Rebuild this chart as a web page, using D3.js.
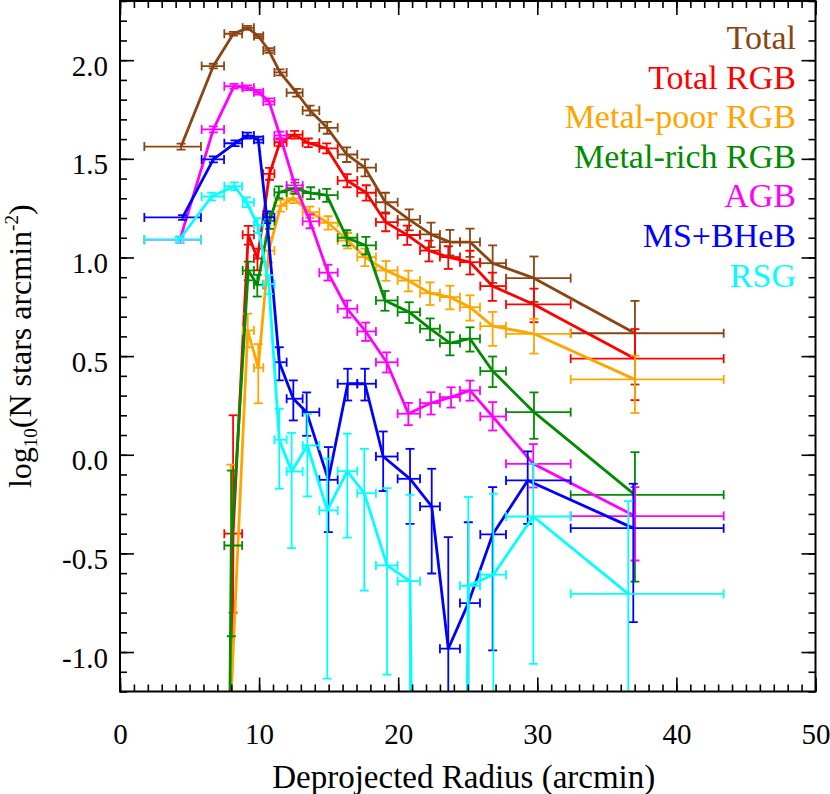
<!DOCTYPE html>
<html>
<head>
<meta charset="utf-8">
<script src="https://cdn.jsdelivr.net/npm/d3@7"></script>
<style>
  html, body { margin: 0; padding: 0; background: #fff; }
  svg { display: block; }
  svg text { font-family: "Liberation Serif", "Times New Roman", "DejaVu Serif", serif; fill: #000; }
</style>
</head>
<body>
<svg id="chart" width="830" height="794"></svg>
<script>
'use strict';

const serif = '"Liberation Serif", "Times New Roman", "DejaVu Serif", serif';

// Radial bins (arcmin); the x error bars span each bin
const binLo = [1.75, 5.87, 7.5, 8.82, 9.63, 10.3, 11.1, 11.98, 13.13, 14.33, 15.65, 17.06, 18.4, 19.96, 21.57, 23.0, 24.44, 25.9, 27.75, 32.4];
const binHi = [5.82, 7.48, 8.78, 9.63, 10.3, 11.1, 11.98, 13.13, 14.33, 15.65, 17.06, 18.4, 19.96, 21.57, 23.0, 24.44, 25.88, 27.75, 32.4, 43.4];

// log10 densities per bin; -10 marks empty bins (far below the axis)
const totalX  = [4.39, 6.71, 8.15, 9.18, 9.94, 10.71, 11.50, 12.70, 13.66, 14.90, 16.30, 17.61, 19.08, 20.79, 22.36, 23.72, 25.16, 26.79, 29.76, 37.02];
const totalY  = [1.562, 1.970, 2.134, 2.164, 2.122, 2.049, 1.938, 1.835, 1.745, 1.657, 1.522, 1.455, 1.280, 1.192, 1.117, 1.078, 1.078, 0.971, 0.895, 0.616];
const totalUp = [0.015, 0.012, 0.01, 0.01, 0.01, 0.012, 0.015, 0.02, 0.025, 0.03, 0.036, 0.042, 0.048, 0.052, 0.06, 0.062, 0.068, 0.09, 0.11, 0.164];
const totalDn = [0.015, 0.012, 0.01, 0.01, 0.01, 0.012, 0.015, 0.02, 0.025, 0.03, 0.038, 0.044, 0.052, 0.055, 0.065, 0.068, 0.075, 0.1, 0.12, 0.26];

const rgbX  = [null, 6.8, 8.13, 9.22, 9.88, 10.75, 11.5, 12.55, 13.54, 14.86, 16.33, 17.7, 19.1, 20.65, 22.21, 23.6, 25.16, 26.77, 29.76, 37.02];
const rgbY  = [null, -10, -0.40, 1.115, 0.995, 1.424, 1.584, 1.622, 1.581, 1.553, 1.39, 1.328, 1.179, 1.114, 1.035, 1.002, 0.976, 0.855, 0.762, 0.487];
const rgbUp = [null, 0, 0.60, 0.045, 0.05, 0.03, 0.02, 0.02, 0.022, 0.025, 0.032, 0.038, 0.043, 0.047, 0.05, 0.055, 0.058, 0.068, 0.08, 0.15];
const rgbDn = [null, 0, 0.40, 0.05, 0.06, 0.03, 0.02, 0.02, 0.022, 0.025, 0.034, 0.04, 0.046, 0.05, 0.055, 0.06, 0.062, 0.075, 0.09, 0.21];

const poorX  = [null, 6.8, 7.97, 9.18, 9.94, 10.7, 11.55, 12.46, 13.64, 14.96, 16.37, 17.61, 19.12, 20.73, 22.29, 23.72, 25.16, 26.79, 29.76, 37.02];
const poorY  = [null, -10, -1.25, 0.63, 0.441, 1.035, 1.262, 1.300, 1.23, 1.176, 1.086, 1.002, 0.934, 0.883, 0.819, 0.799, 0.748, 0.652, 0.613, 0.382];
const poorUp = [null, 0, 1.2, 0.085, 0.12, 0.065, 0.03, 0.025, 0.028, 0.033, 0.038, 0.043, 0.048, 0.05, 0.055, 0.058, 0.06, 0.072, 0.076, 0.12];
const poorDn = [null, 0, 9, 0.085, 0.18, 0.06, 0.03, 0.025, 0.03, 0.035, 0.04, 0.046, 0.052, 0.055, 0.06, 0.062, 0.068, 0.1, 0.1, 0.17];

const richX  = [null, 6.8, 8.0, 9.22, 9.87, 10.75, 11.42, 12.58, 13.71, 14.86, 16.3, 17.68, 19.05, 20.79, 22.29, 23.72, 25.16, 26.79, 29.76, 37.02];
const richY  = [null, -10, -0.46, 0.934, 0.862, 1.185, 1.33, 1.351, 1.326, 1.316, 1.10, 1.061, 0.782, 0.723, 0.639, 0.566, 0.588, 0.424, 0.216, -0.203];
const richUp = [null, 0, 0.38, 0.045, 0.05, 0.04, 0.03, 0.028, 0.03, 0.032, 0.038, 0.043, 0.048, 0.05, 0.052, 0.055, 0.058, 0.074, 0.10, 0.216];
const richDn = [null, 0, 0.46, 0.05, 0.06, 0.04, 0.03, 0.028, 0.03, 0.034, 0.04, 0.046, 0.052, 0.055, 0.058, 0.062, 0.065, 0.081, 0.135, 0.44];

const agbX  = [4.31, 6.71, 8.2, 9.18, 9.94, 10.71, 11.5, 12.58, 13.66, 14.95, 16.33, 17.66, 19.17, 20.73, 22.36, 23.8, 25.16, 26.79, 29.71, 37.02];
const agbY  = [1.09, 1.649, 1.868, 1.86, 1.838, 1.791, 1.618, 1.365, 1.183, 0.923, 0.74, 0.625, 0.469, 0.208, 0.262, 0.292, 0.326, 0.194, -0.046, -0.311];
const agbUp = [0.015, 0.015, 0.012, 0.012, 0.012, 0.015, 0.02, 0.03, 0.035, 0.04, 0.042, 0.045, 0.05, 0.055, 0.055, 0.05, 0.05, 0.073, 0.10, 0.147];
const agbDn = [0.015, 0.015, 0.012, 0.012, 0.012, 0.015, 0.02, 0.03, 0.035, 0.04, 0.045, 0.048, 0.052, 0.058, 0.058, 0.053, 0.052, 0.071, 0.12, 0.225];

const msX  = [4.5, 6.71, 8.27, 9.18, 9.94, 10.55, 11.45, 12.46, 13.42, 14.98, 16.37, 17.61, 18.92, 20.85, 22.41, 23.6, 25.04, 26.79, 29.31, 36.9];
const msY  = [1.203, 1.497, 1.579, 1.618, 1.597, 1.204, 0.469, 0.284, 0.216, -0.127, 0.36, 0.36, -0.009, -0.122, -0.262, -0.983, -0.752, -0.404, -0.13, -0.372];
const msUp = [0.012, 0.015, 0.015, 0.015, 0.015, 0.03, 0.076, 0.093, 0.1, 0.166, 0.076, 0.076, 0.127, 0.152, 0.191, 0.565, 0.41, 0.24, 0.147, 0.225];
const msDn = [0.012, 0.015, 0.015, 0.015, 0.015, 0.03, 0.092, 0.11, 0.12, 0.265, 0.085, 0.085, 0.175, 0.228, 0.34, 9, 9, 0.588, 0.22, 0.476];

const rsgX  = [4.26, 6.59, 8.22, 9.1, 9.9, 10.7, 11.45, 12.34, 13.47, 14.9, 16.34, 17.56, 19.2, 20.85, 22.3, 23.7, 25.04, 26.84, 29.71, 36.54];
const rsgY  = [1.09, 1.309, 1.361, 1.28, 1.164, 0.865, 0.076, -0.085, 0.047, -0.282, -0.083, -0.195, -0.561, -0.641, -10, -10, -0.664, -0.608, -0.313, -0.705];
const rsgUp = [0.015, 0.02, 0.02, 0.025, 0.035, 0.045, 0.157, 0.196, 0.16, 0.262, 0.19, 0.225, 0.392, 0.438, 0, 0, 0.45, 0.41, 0.267, 0.47];
const rsgDn = [0.015, 0.02, 0.02, 0.025, 0.04, 0.05, 0.248, 0.388, 0.258, 0.853, 0.337, 0.493, 0.553, 9, 0, 0, 9, 9, 0.747, 9];

const seriesNames  = ['Total', 'Total RGB', 'Metal-poor RGB', 'Metal-rich RGB', 'AGB', 'MS+BHeB', 'RSG'];
const seriesColors = ['#8b4513', '#ff0000', '#ffa500', '#008c00', '#ff00ff', '#0000ff', '#00ffff'];

const xTicks = [0, 10, 20, 30, 40, 50];
const yTicks = [-1.0, -0.5, 0.0, 0.5, 1.0, 1.5, 2.0];

const series = [
    [totalX, totalY, totalUp, totalDn],
    [rgbX, rgbY, rgbUp, rgbDn],
    [poorX, poorY, poorUp, poorDn],
    [richX, richY, richUp, richDn],
    [agbX, agbY, agbUp, agbDn],
    [msX, msY, msUp, msDn],
    [rsgX, rsgY, rsgUp, rsgDn]
].map(([xs, ys, up, dn], k) => ({
    name: seriesNames[k],
    color: seriesColors[k],
    points: xs.map((x, i) => ({ x, y: ys[i], up: up[i], dn: dn[i], lo: binLo[i], hi: binHi[i] }))
              .filter(p => p.x != null)
}));

// Layout
const plotL = 120, plotR = 815.5, plotT = 1, plotB = 691.5;
const x = d3.scaleLinear().domain([0, 50]).range([plotL, plotR]);
const y = d3.scaleLinear().domain([-1.2, 2.3]).range([plotB, plotT]);

const svg = d3.select('#chart').attr('font-family', serif);

svg.append('defs').append('clipPath').attr('id', 'plotClip')
    .append('rect')
    .attr('x', plotL).attr('y', plotT)
    .attr('width', plotR - plotL).attr('height', plotB - plotT);

const plot = svg.append('g').attr('clip-path', 'url(#plotClip)');
const cap = 4.5;

series.forEach(s => {
    const g = plot.append('g').attr('stroke', s.color).attr('fill', 'none');

    g.append('path')
        .datum(s.points)
        .attr('stroke-width', 2.8)
        .attr('stroke-linejoin', 'round')
        .attr('d', d3.line().x(d => x(d.x)).y(d => y(d.y)));

    const bars = s.points.filter(p => p.y > -5);
    const eb = g.selectAll('g.eb').data(bars).enter().append('g')
        .attr('class', 'eb').attr('stroke-width', 1.8);

    // vertical error
    eb.append('line')
        .attr('x1', d => x(d.x)).attr('x2', d => x(d.x))
        .attr('y1', d => y(d.y - d.dn)).attr('y2', d => y(d.y + d.up));
    eb.append('line')
        .attr('x1', d => x(d.x) - cap).attr('x2', d => x(d.x) + cap)
        .attr('y1', d => y(d.y + d.up)).attr('y2', d => y(d.y + d.up));
    eb.append('line')
        .attr('x1', d => x(d.x) - cap).attr('x2', d => x(d.x) + cap)
        .attr('y1', d => y(d.y - d.dn)).attr('y2', d => y(d.y - d.dn));

    // horizontal (bin) error
    eb.append('line')
        .attr('x1', d => x(d.lo)).attr('x2', d => x(d.hi))
        .attr('y1', d => y(d.y)).attr('y2', d => y(d.y));
    eb.append('line')
        .attr('x1', d => x(d.lo)).attr('x2', d => x(d.lo))
        .attr('y1', d => y(d.y) - cap).attr('y2', d => y(d.y) + cap);
    eb.append('line')
        .attr('x1', d => x(d.hi)).attr('x2', d => x(d.hi))
        .attr('y1', d => y(d.y) - cap).attr('y2', d => y(d.y) + cap);
});

// Axes: ticks point inward, mirrored on top/right
const xMinor = d3.range(0, 51, 1);
const yMinor = d3.range(-12, 24, 1).map(v => v / 10);

function styleAxis(g) {
    g.attr('font-family', serif);
    g.select('.domain').remove();
    g.selectAll('line').attr('stroke', '#000').attr('stroke-width', 1.6);
}

svg.append('g').attr('transform', `translate(0,${plotB})`)
    .call(d3.axisBottom(x).tickValues(xMinor).tickSize(-7).tickFormat(''))
    .call(styleAxis);
svg.append('g').attr('transform', `translate(0,${plotT})`)
    .call(d3.axisTop(x).tickValues(xMinor).tickSize(-7).tickFormat(''))
    .call(styleAxis);
svg.append('g').attr('transform', `translate(${plotL},0)`)
    .call(d3.axisLeft(y).tickValues(yMinor).tickSize(-7).tickFormat(''))
    .call(styleAxis);
svg.append('g').attr('transform', `translate(${plotR},0)`)
    .call(d3.axisRight(y).tickValues(yMinor).tickSize(-7).tickFormat(''))
    .call(styleAxis);

const xAxis = svg.append('g').attr('transform', `translate(0,${plotB})`)
    .call(d3.axisBottom(x).tickValues(xTicks).tickSize(-14).tickFormat(d => String(d)))
    .call(styleAxis);
xAxis.selectAll('text')
    .attr('y', 52.5).attr('dy', 0)
    .style('font-size', '29px').style('font-family', serif);
svg.append('g').attr('transform', `translate(0,${plotT})`)
    .call(d3.axisTop(x).tickValues(xTicks).tickSize(-14).tickFormat(''))
    .call(styleAxis);

const yAxis = svg.append('g').attr('transform', `translate(${plotL},0)`)
    .call(d3.axisLeft(y).tickValues(yTicks).tickSize(-14).tickFormat(d => d.toFixed(1)))
    .call(styleAxis);
yAxis.selectAll('text')
    .attr('x', -12).attr('dy', 15)
    .style('font-size', '29px').style('font-family', serif);
svg.append('g').attr('transform', `translate(${plotR},0)`)
    .call(d3.axisRight(y).tickValues(yTicks).tickSize(-14).tickFormat(''))
    .call(styleAxis);

// Frame
svg.append('rect')
    .attr('x', plotL).attr('y', plotT)
    .attr('width', plotR - plotL).attr('height', plotB - plotT)
    .attr('fill', 'none').attr('stroke', '#000').attr('stroke-width', 2);

// Axis titles
svg.append('text')
    .attr('x', (plotL + plotR) / 2 - 4).attr('y', 788)
    .attr('text-anchor', 'middle')
    .style('font-size', '33px')
    .text('Deprojected Radius (arcmin)');

const yTitle = svg.append('text')
    .attr('transform', `translate(31,${(plotT + plotB) / 2}) rotate(-90)`)
    .attr('text-anchor', 'middle')
    .style('font-size', '32px');
yTitle.append('tspan').text('log');
yTitle.append('tspan').attr('dy', 6).style('font-size', '19px').text('10');
yTitle.append('tspan').attr('dy', -6).text('(N stars arcmin');
yTitle.append('tspan').attr('dy', -13).style('font-size', '19px').text('-2');
yTitle.append('tspan').attr('dy', 13).text(')');

// Legend
svg.append('g').selectAll('text')
    .data(series).enter().append('text')
    .attr('x', 796)
    .attr('y', (d, i) => 49 + i * 39.6)
    .attr('text-anchor', 'end')
    .style('font-size', '34px')
    .style('fill', d => d.color)
    .text(d => d.name);
</script>
</body>
</html>
